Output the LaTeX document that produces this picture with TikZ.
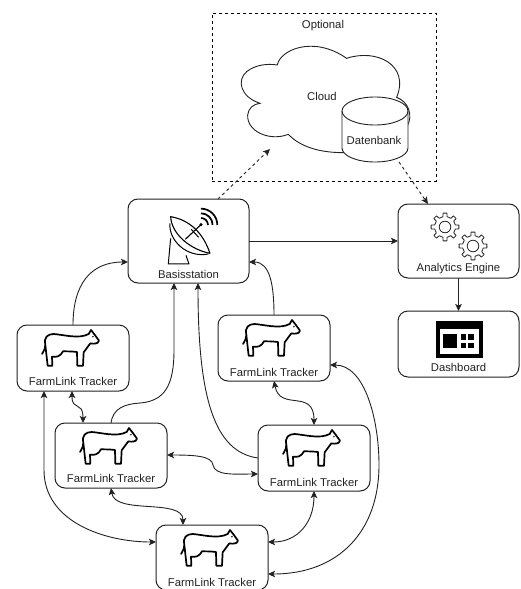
\documentclass[tikz,border=0pt]{standalone}
\usepackage{fontspec}
\setmainfont{Liberation Sans}
\usetikzlibrary{arrows.meta,calc}
\definecolor{ink}{HTML}{222222}
\tikzset{
  box/.style 2 args={draw=ink,line width=1pt,rounded corners=10pt,minimum width=#1pt,minimum height=#2pt,inner sep=0pt,outer sep=0pt},
  lbl/.style={font=\fontsize{11.3pt}{13pt}\selectfont,text=ink,inner sep=0pt,anchor=center},
  conn/.style={draw=ink,line width=0.9pt,-{Stealth[length=7pt,width=6.5pt,inset=1.5pt]}},
  both/.style={draw=ink,line width=0.9pt,{Stealth[length=7pt,width=6.5pt,inset=1.5pt]}-{Stealth[length=7pt,width=6.5pt,inset=1.5pt]}},
  dconn/.style={conn,dash pattern=on 3pt off 3pt},
  cowicon/.pic={
    \begin{scope}[x=0.3333pt,y=-0.3333pt,shift={(50,7)}]
      \draw[black,line width=1.7pt,line join=round,line cap=round]
        (25,80) .. controls (32,68) and (36,60) .. (35,52)
        .. controls (30,30) and (42,20) .. (60,20)
        .. controls (90,22) and (135,36) .. (165,20)
        -- (172,8) -- (183,22) -- (196,40) .. controls (194,50) and (180,50) .. (170,48)
        -- (150,75) -- (148,115) -- (131,115) -- (130,74)
        .. controls (115,72) and (100,72) .. (88,72)
        .. controls (80,88) and (68,90) .. (55,88)
        -- (56,115) -- (42,115) -- (38,80) -- (35,52);
      \fill[black] (178,28) circle (2.5);
    \end{scope}
  },
  gearicon/.pic={
    \draw[ink,line width=0.8pt,line join=round]
      (-11:10.5)
      \foreach \a in {0,45,...,315} {
        -- ($(\a-11:10.5)$) -- ($(\a-8:14)$) -- ($(\a+8:14)$) -- ($(\a+11:10.5)$)
      } -- cycle;
    \draw[ink,line width=0.8pt] (0,0) circle (5.8);
  }
}
\begin{document}
\begin{tikzpicture}[x=1pt,y=-1pt]
\useasboundingbox (0,0) rectangle (520,589);

% optional frame
\node[draw=black,line width=0.9pt,dash pattern=on 3pt off 3pt,minimum width=224pt,minimum height=168pt,inner sep=0pt,outer sep=0pt] (opt) at (324,97) {};
\node[lbl] (optt) at (323,26) {Optional};

% cloud
\begin{scope}[shift={(200,0)},x=0.3333pt,y=-0.3333pt]
  \draw[ink,line width=0.9pt,fill=white]
    (232,195) .. controls (240,150) and (340,105) .. (440,175)
    .. controls (530,145) and (630,195) .. (590,292)
    .. controls (625,305) and (640,345) .. (622,378)
    .. controls (600,420) and (480,465) .. (430,458)
    .. controls (340,458) and (290,430) .. (265,403)
    .. controls (210,425) and (140,395) .. (143,345)
    .. controls (145,325) and (160,312) .. (180,310)
    .. controls (120,290) and (110,240) .. (140,215)
    .. controls (165,195) and (200,190) .. (232,195) -- cycle;
\end{scope}
\node[lbl] (cloudt) at (322,96) {Cloud};
\coordinate (cloudend) at (270,149);

% database
\node[inner sep=0pt,outer sep=0pt,minimum width=66pt,minimum height=65pt] (db) at (375,129.5) {};
\draw[ink,line width=0.9pt,fill=white]
  (342,111) -- (342,148) arc[start angle=180,end angle=360,x radius=33,y radius=-14] -- (408,111)
  arc[start angle=0,end angle=180,x radius=33,y radius=-14] -- cycle;
\draw[ink,line width=0.9pt] (342,111) arc[start angle=180,end angle=360,x radius=33,y radius=-14];
\node[lbl] (dbt) at (374,140) {Datenbank};

% boxes
\node[box={121}{84}] (bs) at (188.5,241) {};
\node[lbl] at ([yshift=9pt]bs.south) {Basisstation};
\node[box={121}{74}] (ae) at (458.5,241) {};
\node[lbl] at ([yshift=9pt]ae.south) {Analytics Engine};
\node[box={121}{66}] (dash) at (458.5,344) {};
\node[lbl] at ([yshift=10pt]dash.south) {Dashboard};

\node[box={112}{66}] (ta) at (73,358) {};
\node[lbl] at ([yshift=10pt]ta.south) {FarmLink Tracker};
\node[box={112}{65}] (tb) at (111,455.5) {};
\node[lbl] at ([yshift=9.5pt]tb.south) {FarmLink Tracker};
\node[box={112}{65}] (tc) at (212,557.5) {};
\node[lbl] at ([yshift=8pt]tc.south) {FarmLink Tracker};
\node[box={112}{66}] (td) at (274,348) {};
\node[lbl] at ([yshift=9pt]td.south) {FarmLink Tracker};
\node[box={112}{66}] (te) at (314,458) {};
\node[lbl] at ([yshift=8.5pt]te.south) {FarmLink Tracker};

% cows
\pic at (ta.north west) {cowicon};
\pic at (tb.north west) {cowicon};
\pic at (tc.north west) {cowicon};
\pic at (td.north west) {cowicon};
\pic at (te.north west) {cowicon};

% dish (zoom coordinates)
\begin{scope}[x=0.3333pt,y=-0.3333pt,shift={(0,570)}]
  \draw[black,line width=1.1pt,line join=round]
    (512,80) .. controls (570,90) and (610,130) .. (630,190)
    .. controls (575,180) and (515,135) .. (512,80) -- cycle;
  \draw[black,line width=1pt] (510,100) .. controls (505,150) and (560,205) .. (625,192);
  \draw[black,line width=1pt,line join=round] (512,145) -- (505,222) -- (567,222) -- (558,196);
  \draw[black,line width=1.1pt] (556,148) -- (603,104);
  \draw[black,line width=1pt] (574,118) -- (596,142);
  \fill[black] (603,104) circle (5);
  \draw[black,line width=1.7pt] (603,84) arc[start angle=-90,end angle=0,radius=21];
  \draw[black,line width=1.7pt] (603,70) arc[start angle=-90,end angle=0,radius=35];
  \draw[black,line width=1.7pt] (603,56) arc[start angle=-90,end angle=0,radius=49];
\end{scope}

% gears
\pic at (445,227) {gearicon};
\pic at (473,246) {gearicon};

% dashboard icon
\fill[black] (435.7,320.7) rectangle (483.3,357.7);
\fill[white] (440,329) rectangle (479.3,354);
\fill[black] (443.3,334.3) rectangle (457.3,348.3);
\fill[black] (460.7,334.3) rectangle (466.3,340);
\fill[black] (468,334.3) rectangle (473.7,340);
\fill[black] (460.7,342.5) rectangle (466.3,348.3);
\fill[black] (468,342.5) rectangle (473.7,348.3);

% connectors
\draw[conn] ([xshift=56pt]ta.north west) .. controls (73,285) and (90,262) .. ([yshift=-63pt]bs.north west);
\draw[conn] ([xshift=56pt]tb.north west) .. controls (113,408) and (125,404) .. (140,403)
  .. controls (165,401) and (174,385) .. (174,350) -- ([xshift=46pt]bs.south west);
\draw[conn] ([yshift=-33pt]te.north west) .. controls (215,452) and (198,400) .. ([xshift=70pt]bs.south west);
\draw[conn] ([xshift=56pt]td.north west) .. controls (274,285) and (270,262) .. ([yshift=-63pt]bs.north east);
\draw[conn] (bs.east) -- (ae.west);
\draw[dconn] ([xshift=90pt]bs.north west) -- (cloudend);
\draw[dconn] ([xshift=24pt]db.south) -- ([xshift=30pt]ae.north west);
\draw[conn] (ae.south) -- (dash.north);
\draw[both] ([xshift=55pt]ta.south west) .. controls (72,412) and (83,400) .. ([xshift=28pt]tb.north west);
\draw[both] ([xshift=27pt]ta.south west) -- (44,470) .. controls (44,522) and (105,542) .. ([yshift=-17pt]tc.north west);
\draw[both] ([yshift=-32pt]tb.north east) .. controls (195,455) and (212,456) .. (213,465)
  .. controls (215,476) and (235,474) .. ([yshift=-49pt]te.north west);
\draw[both] ([xshift=56pt]tb.south west) .. controls (115,515) and (183,498) .. ([xshift=27pt]tc.north west);
\draw[both] ([xshift=56pt]td.south west) .. controls (280,412) and (314,388) .. (te.north);
\draw[both] (te.south) .. controls (314,522) and (298,542) .. ([yshift=-17pt]tc.north east);
\draw[both] ([yshift=-50pt]td.north east) .. controls (365,365) and (379,420) .. (379,465)
  .. controls (379,530) and (340,574) .. ([yshift=-49pt]tc.north east);
\end{tikzpicture}
\end{document}
